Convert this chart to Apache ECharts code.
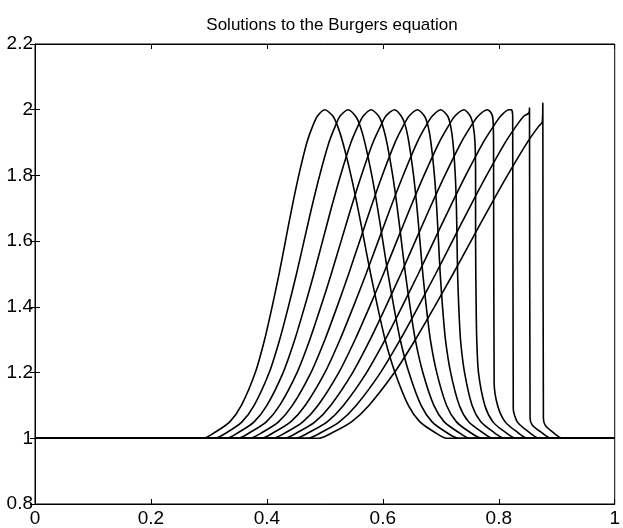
<!DOCTYPE html>
<html>
<head>
<meta charset="utf-8">
<title>Burgers</title>
<script src="https://cdn.jsdelivr.net/npm/echarts@6/dist/echarts.min.js"></script>
<style>
  html, body { margin: 0; padding: 0; background: #fff; }
  #chartBurgers { width: 623px; height: 528px; }
</style>
</head>
<body>
<div id="chartBurgers"></div>
<script>
// curves, one per time step, as [x, u] pairs
var curveT0 = [[0,1],[0.29,1],[0.312,1.02],[0.336,1.05],[0.356,1.1],[0.380,1.2],[0.396,1.3],[0.409,1.4],[0.421,1.5],[0.432,1.6],[0.443,1.7],[0.455,1.8],[0.469,1.9],[0.479,1.95],[0.487,1.98],[0.5,2],[0.514,1.98],[0.522,1.95],[0.531,1.9],[0.545,1.8],[0.557,1.7],[0.568,1.6],[0.579,1.5],[0.591,1.4],[0.604,1.3],[0.621,1.2],[0.644,1.1],[0.664,1.05],[0.688,1.02],[0.71,1],[1,1]];
var curveT1 = [[0,1],[0.31,1],[0.333,1.02],[0.357,1.05],[0.378,1.1],[0.404,1.2],[0.422,1.3],[0.437,1.4],[0.451,1.5],[0.464,1.6],[0.477,1.7],[0.491,1.8],[0.507,1.9],[0.518,1.95],[0.526,1.98],[0.54,2],[0.553,1.98],[0.561,1.95],[0.569,1.9],[0.581,1.8],[0.591,1.7],[0.600,1.6],[0.609,1.5],[0.619,1.4],[0.630,1.3],[0.645,1.2],[0.666,1.1],[0.685,1.05],[0.708,1.02],[0.73,1],[1,1]];
var curveT2 = [[0,1],[0.33,1],[0.353,1.02],[0.378,1.05],[0.400,1.1],[0.428,1.2],[0.448,1.3],[0.465,1.4],[0.481,1.5],[0.496,1.6],[0.511,1.7],[0.527,1.8],[0.545,1.9],[0.557,1.95],[0.566,1.98],[0.58,2],[0.593,1.98],[0.600,1.95],[0.607,1.9],[0.617,1.8],[0.625,1.7],[0.632,1.6],[0.639,1.5],[0.647,1.4],[0.656,1.3],[0.669,1.2],[0.688,1.1],[0.706,1.05],[0.729,1.02],[0.75,1],[1,1]];
var curveT3 = [[0,1],[0.35,1],[0.373,1.02],[0.399,1.05],[0.422,1.1],[0.452,1.2],[0.474,1.3],[0.493,1.4],[0.511,1.5],[0.528,1.6],[0.545,1.7],[0.563,1.8],[0.583,1.9],[0.596,1.95],[0.605,1.98],[0.62,2],[0.632,1.98],[0.639,1.95],[0.645,1.9],[0.653,1.8],[0.659,1.7],[0.664,1.6],[0.669,1.5],[0.675,1.4],[0.682,1.3],[0.693,1.2],[0.710,1.1],[0.727,1.05],[0.749,1.02],[0.77,1],[1,1]];
var curveT4 = [[0,1],[0.37,1],[0.394,1.02],[0.420,1.05],[0.444,1.1],[0.476,1.2],[0.500,1.3],[0.521,1.4],[0.541,1.5],[0.560,1.6],[0.579,1.7],[0.599,1.8],[0.621,1.9],[0.635,1.95],[0.645,1.98],[0.66,2],[0.672,1.98],[0.678,1.95],[0.683,1.9],[0.689,1.8],[0.693,1.7],[0.696,1.6],[0.699,1.5],[0.703,1.4],[0.708,1.3],[0.717,1.2],[0.732,1.1],[0.748,1.05],[0.770,1.02],[0.79,1],[1,1]];
var curveT5 = [[0,1],[0.39,1],[0.414,1.02],[0.441,1.05],[0.466,1.1],[0.500,1.2],[0.526,1.3],[0.549,1.4],[0.571,1.5],[0.592,1.6],[0.613,1.7],[0.635,1.8],[0.659,1.9],[0.674,1.95],[0.685,1.98],[0.70,2],[0.712,1.98],[0.717,1.95],[0.721,1.9],[0.725,1.8],[0.727,1.7],[0.728,1.6],[0.729,1.5],[0.731,1.4],[0.734,1.3],[0.741,1.2],[0.754,1.1],[0.769,1.05],[0.790,1.02],[0.81,1],[1,1]];
var curveT6 = [[0,1],[0.41,1],[0.435,1.02],[0.462,1.05],[0.488,1.1],[0.524,1.2],[0.552,1.3],[0.577,1.4],[0.601,1.5],[0.624,1.6],[0.647,1.7],[0.671,1.8],[0.697,1.9],[0.713,1.95],[0.724,1.98],[0.74,2],[0.751,1.98],[0.756,1.95],[0.759,1.9],[0.760,1.8],[0.760,1.6],[0.761,1.4],[0.762,1.3],[0.765,1.2],[0.776,1.1],[0.790,1.05],[0.810,1.02],[0.83,1],[1,1]];
var curveT7 = [[0,1],[0.43,1],[0.455,1.02],[0.483,1.05],[0.510,1.1],[0.548,1.2],[0.578,1.3],[0.605,1.4],[0.631,1.5],[0.656,1.6],[0.681,1.7],[0.707,1.8],[0.735,1.9],[0.752,1.95],[0.764,1.98],[0.78,2],[0.787,1.99],[0.790,1.97],[0.791,1.9],[0.792,1.17],[0.798,1.1],[0.811,1.05],[0.831,1.02],[0.85,1],[1,1]];
var curveT8 = [[0,1],[0.45,1],[0.475,1.02],[0.504,1.05],[0.532,1.1],[0.572,1.2],[0.604,1.3],[0.633,1.4],[0.661,1.5],[0.688,1.6],[0.715,1.7],[0.743,1.8],[0.773,1.9],[0.791,1.95],[0.803,1.98],[0.817,2],[0.822,2],[0.824,1.98],[0.825,1.09],[0.832,1.05],[0.851,1.02],[0.87,1],[1,1]];
var curveT9 = [[0,1],[0.47,1],[0.496,1.02],[0.525,1.05],[0.554,1.1],[0.596,1.2],[0.630,1.3],[0.661,1.4],[0.691,1.5],[0.720,1.6],[0.749,1.7],[0.779,1.8],[0.811,1.9],[0.830,1.95],[0.843,1.98],[0.852,1.99],[0.853,2.005],[0.854,1.06],[0.858,1.04],[0.872,1.02],[0.89,1],[1,1]];
var curveT10 = [[0,1],[0.49,1],[0.516,1.02],[0.546,1.05],[0.576,1.1],[0.620,1.2],[0.656,1.3],[0.689,1.4],[0.721,1.5],[0.752,1.6],[0.783,1.7],[0.815,1.8],[0.849,1.9],[0.869,1.95],[0.875,1.962],[0.876,2.02],[0.877,1.06],[0.88,1.04],[0.892,1.02],[0.91,1],[1,1]];

var curves = [curveT0, curveT1, curveT2, curveT3, curveT4, curveT5,
  curveT6, curveT7, curveT8, curveT9, curveT10];

var chartBurgers = echarts.init(document.getElementById('chartBurgers'));

var axisFont = {
  color: '#000',
  fontFamily: 'Liberation Sans',
  fontSize: 19
};

var option = {
  animation: false,
  title: {
    text: 'Solutions to the Burgers equation',
    left: 327,
    top: 12,
    textAlign: 'center',
    textStyle: {
      color: '#000',
      fontFamily: 'Liberation Sans',
      fontSize: 17,
      fontWeight: 'normal'
    }
  },
  grid: {
    left: 35,
    right: 3,
    top: 44,
    bottom: 23,
    show: true,
    borderColor: '#000',
    borderWidth: 1
  },
  xAxis: [
    {
      type: 'value',
      min: 0,
      max: 1,
      interval: 0.2,
      axisLine: { lineStyle: { color: '#000' } },
      axisTick: { inside: true, length: 5, lineStyle: { color: '#000' } },
      axisLabel: Object.assign({ margin: 5 }, axisFont),
      splitLine: { show: false }
    },
    {
      type: 'value',
      position: 'top',
      min: 0,
      max: 1,
      interval: 0.2,
      axisLine: { lineStyle: { color: '#000' } },
      axisTick: { inside: true, length: 5, lineStyle: { color: '#000' } },
      axisLabel: { show: false },
      splitLine: { show: false }
    }
  ],
  yAxis: [
    {
      type: 'value',
      min: 0.8,
      max: 2.2,
      interval: 0.2,
      axisLine: { show: true, lineStyle: { color: '#000' } },
      axisTick: { show: true, inside: true, length: 5, lineStyle: { color: '#000' } },
      axisLabel: Object.assign({ margin: 2 }, axisFont),
      splitLine: { show: false }
    },
    {
      type: 'value',
      position: 'right',
      min: 0.8,
      max: 2.2,
      interval: 0.2,
      axisLine: { show: true, lineStyle: { color: '#000' } },
      axisTick: { show: true, inside: true, length: 5, lineStyle: { color: '#000' } },
      axisLabel: { show: false },
      splitLine: { show: false }
    }
  ],
  series: curves.map(function (c, i) {
    return {
      name: 't' + i,
      type: 'line',
      data: c,
      showSymbol: false,
      smooth: 0.25,
      lineStyle: { color: '#000', width: 1.6 }
    };
  })
};

chartBurgers.setOption(option);
</script>
</body>
</html>
